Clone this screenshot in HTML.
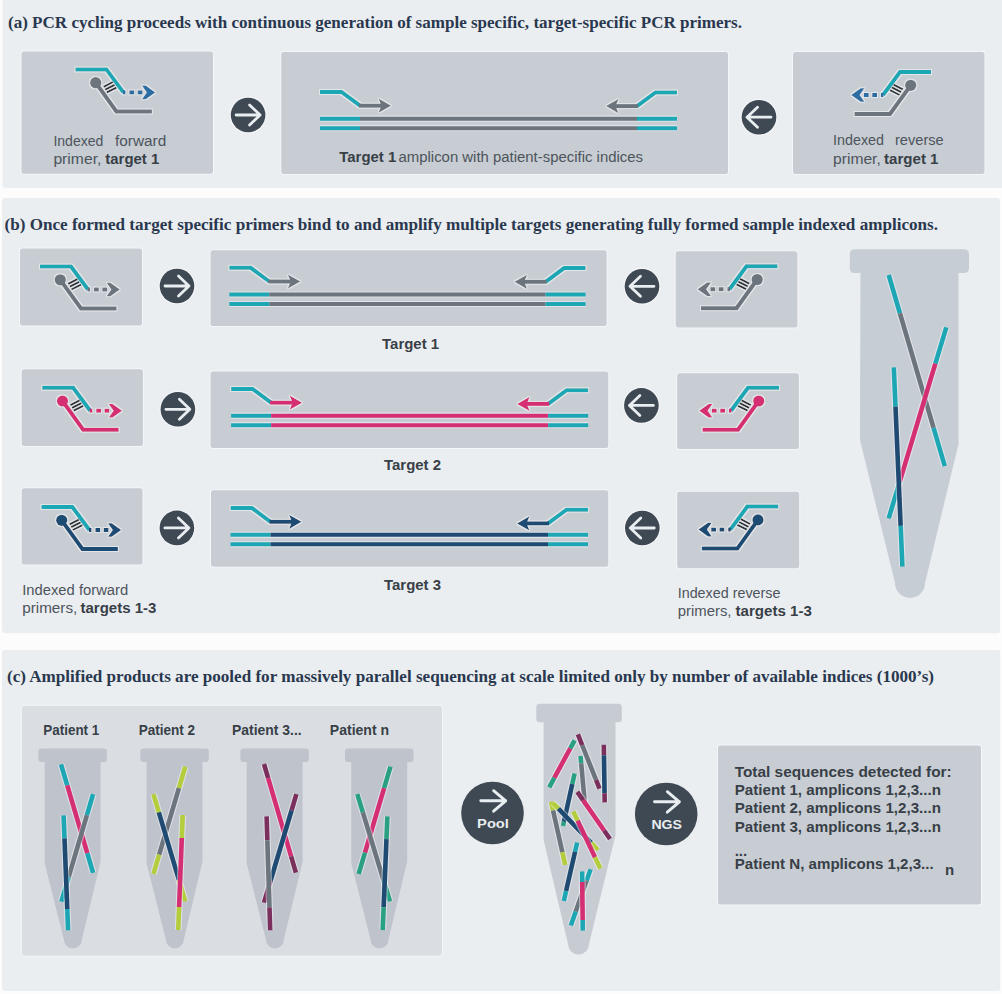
<!DOCTYPE html>
<html><head><meta charset="utf-8"><style>
html,body{margin:0;padding:0;background:#fcfcfd;}
body{width:1002px;height:994px;overflow:hidden;font-family:"Liberation Sans",sans-serif;}
svg{display:block;}
</style></head><body>
<svg width="1002" height="994" viewBox="0 0 1002 994">
<defs><filter id="halo" x="-20%" y="-20%" width="140%" height="140%"><feMorphology in="SourceAlpha" operator="dilate" radius="1.1" result="d"/><feFlood flood-color="#ffffff" flood-opacity="0.5"/><feComposite in2="d" operator="in" result="h"/><feMerge><feMergeNode in="h"/><feMergeNode in="SourceGraphic"/></feMerge></filter></defs>
<rect width="1002" height="994" fill="#fcfcfd"/>
<rect x="2.5" y="-4" width="1003" height="192" rx="3" fill="#ebeef1"/>
<rect x="2" y="198" width="998" height="435.2" rx="3" fill="#ebeef1"/>
<rect x="2" y="650" width="998.3" height="341" rx="3" fill="#ebeef1"/>
<text x="8" y="28" font-family="Liberation Serif" font-size="17" font-weight="bold" fill="#29384f" textLength="734" lengthAdjust="spacingAndGlyphs" xml:space="preserve">(a) PCR cycling proceeds with continuous generation of sample specific, target-specific PCR primers.</text>
<text x="4.5" y="230" font-family="Liberation Serif" font-size="17" font-weight="bold" fill="#29384f" textLength="933.5" lengthAdjust="spacingAndGlyphs" xml:space="preserve">(b) Once formed target specific primers bind to and amplify multiple targets generating fully formed sample indexed amplicons.</text>
<text x="7" y="681.5" font-family="Liberation Serif" font-size="17" font-weight="bold" fill="#29384f" textLength="927" lengthAdjust="spacingAndGlyphs" xml:space="preserve">(c) Amplified products are pooled for massively parallel sequencing at scale limited only by number of available indices (1000’s)</text>
<rect x="20.5" y="50.5" width="193.5" height="124.3" rx="3.5" fill="#f4f6f9"/>
<rect x="21.5" y="51.5" width="191.5" height="122.3" rx="2.5" fill="#c7cdd3"/>
<rect x="280.3" y="51" width="448.7" height="124" rx="3.5" fill="#f4f6f9"/>
<rect x="281.3" y="52" width="446.7" height="122" rx="2.5" fill="#c7cdd3"/>
<rect x="792" y="51" width="193.5" height="124" rx="3.5" fill="#f4f6f9"/>
<rect x="793" y="52" width="191.5" height="122" rx="2.5" fill="#c7cdd3"/>
<g transform="translate(75.4,69.4)" filter="url(#halo)"><path d="M0,0 H31 L48,23" fill="none" stroke="#1da7b4" stroke-width="4"/><rect x="47.5" y="21" width="2.6" height="4" fill="#2c6ea3"/><rect x="54" y="21" width="4.8" height="4" fill="#2c6ea3"/><rect x="62.3" y="21" width="4.8" height="4" fill="#2c6ea3"/><polygon points="66.6,16.2 70.3,16.2 79.8,23 70.3,29.8 66.6,29.8 71.4,23" fill="#2c6ea3"/><path d="M20.3,13.3 L41,42 H76.5" fill="none" stroke="#6c747d" stroke-width="4"/><circle cx="20.3" cy="13.3" r="5.6" fill="#6c747d"/><line x1="28.2" y1="17.4" x2="37.4" y2="12.6" stroke="#2d3338" stroke-width="1.9"/><line x1="29.8" y1="20.2" x2="39.2" y2="15.4" stroke="#2d3338" stroke-width="1.9"/><line x1="31.4" y1="23" x2="41" y2="18.2" stroke="#2d3338" stroke-width="1.9"/></g>
<g transform="translate(931,72) scale(-1,1)" filter="url(#halo)"><path d="M0,0 H31 L48,23" fill="none" stroke="#1da7b4" stroke-width="4"/><rect x="47.5" y="21" width="2.6" height="4" fill="#2c6ea3"/><rect x="54" y="21" width="4.8" height="4" fill="#2c6ea3"/><rect x="62.3" y="21" width="4.8" height="4" fill="#2c6ea3"/><polygon points="66.6,16.2 70.3,16.2 79.8,23 70.3,29.8 66.6,29.8 71.4,23" fill="#2c6ea3"/><path d="M20.3,13.3 L41,42 H76.5" fill="none" stroke="#6c747d" stroke-width="4"/><circle cx="20.3" cy="13.3" r="5.6" fill="#6c747d"/><line x1="28.2" y1="17.4" x2="37.4" y2="12.6" stroke="#2d3338" stroke-width="1.9"/><line x1="29.8" y1="20.2" x2="39.2" y2="15.4" stroke="#2d3338" stroke-width="1.9"/><line x1="31.4" y1="23" x2="41" y2="18.2" stroke="#2d3338" stroke-width="1.9"/></g>
<line x1="320" y1="118.7" x2="677" y2="118.7" stroke="#ffffff" stroke-opacity="0.45" stroke-width="6.2"/>
<line x1="320" y1="128.2" x2="677" y2="128.2" stroke="#ffffff" stroke-opacity="0.45" stroke-width="6.2"/>
<line x1="320" y1="118.7" x2="360" y2="118.7" stroke="#1da7b4" stroke-width="4"/>
<line x1="360" y1="118.7" x2="637" y2="118.7" stroke="#6c747d" stroke-width="4"/>
<line x1="637" y1="118.7" x2="677" y2="118.7" stroke="#1da7b4" stroke-width="4"/>
<line x1="320" y1="128.2" x2="360" y2="128.2" stroke="#1da7b4" stroke-width="4"/>
<line x1="360" y1="128.2" x2="637" y2="128.2" stroke="#6c747d" stroke-width="4"/>
<line x1="637" y1="128.2" x2="677" y2="128.2" stroke="#1da7b4" stroke-width="4"/>
<g transform="translate(320,92) scale(1,1)" filter="url(#halo)"><path d="M0,0 H21.5 L40,13.7" fill="none" stroke="#1da7b4" stroke-width="4"/><path d="M39,13.7 H63" fill="none" stroke="#6c747d" stroke-width="4"/><polygon points="58.5,6.6 71,13.7 58.5,20.8 61.5,13.7" fill="#6c747d"/></g>
<g transform="translate(677,92.4) scale(-1,1)" filter="url(#halo)"><path d="M0,0 H21.5 L40,13.7" fill="none" stroke="#1da7b4" stroke-width="4"/><path d="M39,13.7 H63" fill="none" stroke="#6c747d" stroke-width="4"/><polygon points="58.5,6.6 71,13.7 58.5,20.8 61.5,13.7" fill="#6c747d"/></g>
<g transform="translate(248.1,115) scale(1,1)"><circle r="18.5" fill="#f4f6f9"/><circle r="17.3" fill="#3e4954"/><path d="M-12,0 H12 M1.5,-10 L12,0 L1.5,10" fill="none" stroke="#e9eef1" stroke-width="2.8" stroke-linecap="round" stroke-linejoin="round"/></g>
<g transform="translate(759,117.2) scale(-1,1)"><circle r="18.5" fill="#f4f6f9"/><circle r="17.3" fill="#3e4954"/><path d="M-12,0 H12 M1.5,-10 L12,0 L1.5,10" fill="none" stroke="#e9eef1" stroke-width="2.8" stroke-linecap="round" stroke-linejoin="round"/></g>
<text x="53.4" y="145.5" font-family="Liberation Sans" font-size="14" font-weight="normal" fill="#4d545c" textLength="50" lengthAdjust="spacingAndGlyphs" xml:space="preserve">Indexed</text>
<text x="115" y="145.5" font-family="Liberation Sans" font-size="14" font-weight="normal" fill="#4d545c" textLength="51.3" lengthAdjust="spacingAndGlyphs" xml:space="preserve">forward</text>
<text x="53.4" y="164" font-family="Liberation Sans" font-size="14" font-weight="normal" fill="#4d545c" textLength="48" lengthAdjust="spacingAndGlyphs" xml:space="preserve">primer,</text>
<text x="105.3" y="164" font-family="Liberation Sans" font-size="14" font-weight="bold" fill="#383f47" textLength="54" lengthAdjust="spacingAndGlyphs" xml:space="preserve">target 1</text>
<text x="339.3" y="162" font-family="Liberation Sans" font-size="14" font-weight="bold" fill="#383f47" textLength="56.9" lengthAdjust="spacingAndGlyphs" xml:space="preserve">Target 1</text>
<text x="398.5" y="162" font-family="Liberation Sans" font-size="14" font-weight="normal" fill="#4d545c" textLength="244.5" lengthAdjust="spacingAndGlyphs" xml:space="preserve">amplicon with patient-specific indices</text>
<text x="833" y="145.1" font-family="Liberation Sans" font-size="14" font-weight="normal" fill="#4d545c" textLength="51" lengthAdjust="spacingAndGlyphs" xml:space="preserve">Indexed</text>
<text x="895" y="145.1" font-family="Liberation Sans" font-size="14" font-weight="normal" fill="#4d545c" textLength="48.7" lengthAdjust="spacingAndGlyphs" xml:space="preserve">reverse</text>
<text x="833" y="164" font-family="Liberation Sans" font-size="14" font-weight="normal" fill="#4d545c" textLength="47.8" lengthAdjust="spacingAndGlyphs" xml:space="preserve">primer,</text>
<text x="884" y="164" font-family="Liberation Sans" font-size="14" font-weight="bold" fill="#383f47" textLength="54.5" lengthAdjust="spacingAndGlyphs" xml:space="preserve">target 1</text>
<rect x="19" y="247.5" width="124" height="79.0" rx="3.5" fill="#f4f6f9"/>
<rect x="20" y="248.5" width="122" height="77.0" rx="2.5" fill="#c7cdd3"/>
<rect x="209.5" y="249.2" width="398.1" height="77.8" rx="3.5" fill="#f4f6f9"/>
<rect x="210.5" y="250.2" width="396.1" height="75.8" rx="2.5" fill="#c7cdd3"/>
<rect x="674.7" y="250.2" width="123.7" height="78.4" rx="3.5" fill="#f4f6f9"/>
<rect x="675.7" y="251.2" width="121.7" height="76.4" rx="2.5" fill="#c7cdd3"/>
<g transform="translate(40,266.5)" filter="url(#halo)"><path d="M0,0 H31 L48,23" fill="none" stroke="#1da7b4" stroke-width="4"/><rect x="47.5" y="21" width="2.6" height="4" fill="#6c747d"/><rect x="54" y="21" width="4.8" height="4" fill="#6c747d"/><rect x="62.3" y="21" width="4.8" height="4" fill="#6c747d"/><polygon points="66.6,16.2 70.3,16.2 79.8,23 70.3,29.8 66.6,29.8 71.4,23" fill="#6c747d"/><path d="M20.3,13.3 L41,42 H76.5" fill="none" stroke="#6c747d" stroke-width="4"/><circle cx="20.3" cy="13.3" r="5.6" fill="#6c747d"/><line x1="28.2" y1="17.4" x2="37.4" y2="12.6" stroke="#2d3338" stroke-width="1.9"/><line x1="29.8" y1="20.2" x2="39.2" y2="15.4" stroke="#2d3338" stroke-width="1.9"/><line x1="31.4" y1="23" x2="41" y2="18.2" stroke="#2d3338" stroke-width="1.9"/></g>
<g transform="translate(777.5,266.2) scale(-1,1)" filter="url(#halo)"><path d="M0,0 H31 L48,23" fill="none" stroke="#1da7b4" stroke-width="4"/><rect x="47.5" y="21" width="2.6" height="4" fill="#6c747d"/><rect x="54" y="21" width="4.8" height="4" fill="#6c747d"/><rect x="62.3" y="21" width="4.8" height="4" fill="#6c747d"/><polygon points="66.6,16.2 70.3,16.2 79.8,23 70.3,29.8 66.6,29.8 71.4,23" fill="#6c747d"/><path d="M20.3,13.3 L41,42 H76.5" fill="none" stroke="#6c747d" stroke-width="4"/><circle cx="20.3" cy="13.3" r="5.6" fill="#6c747d"/><line x1="28.2" y1="17.4" x2="37.4" y2="12.6" stroke="#2d3338" stroke-width="1.9"/><line x1="29.8" y1="20.2" x2="39.2" y2="15.4" stroke="#2d3338" stroke-width="1.9"/><line x1="31.4" y1="23" x2="41" y2="18.2" stroke="#2d3338" stroke-width="1.9"/></g>
<line x1="229.3" y1="294.5" x2="585.6" y2="294.5" stroke="#ffffff" stroke-opacity="0.45" stroke-width="6.2"/>
<line x1="229.3" y1="304.0" x2="585.6" y2="304.0" stroke="#ffffff" stroke-opacity="0.45" stroke-width="6.2"/>
<line x1="229.3" y1="294.5" x2="269.3" y2="294.5" stroke="#1da7b4" stroke-width="4"/>
<line x1="269.3" y1="294.5" x2="545.6" y2="294.5" stroke="#6c747d" stroke-width="4"/>
<line x1="545.6" y1="294.5" x2="585.6" y2="294.5" stroke="#1da7b4" stroke-width="4"/>
<line x1="229.3" y1="304.0" x2="269.3" y2="304.0" stroke="#1da7b4" stroke-width="4"/>
<line x1="269.3" y1="304.0" x2="545.6" y2="304.0" stroke="#6c747d" stroke-width="4"/>
<line x1="545.6" y1="304.0" x2="585.6" y2="304.0" stroke="#1da7b4" stroke-width="4"/>
<g transform="translate(229.3,267.8) scale(1,1)" filter="url(#halo)"><path d="M0,0 H21.5 L40,13.7" fill="none" stroke="#1da7b4" stroke-width="4"/><path d="M39,13.7 H63" fill="none" stroke="#6c747d" stroke-width="4"/><polygon points="58.5,6.6 71,13.7 58.5,20.8 61.5,13.7" fill="#6c747d"/></g>
<g transform="translate(585.6,268.1) scale(-1,1)" filter="url(#halo)"><path d="M0,0 H21.5 L40,13.7" fill="none" stroke="#1da7b4" stroke-width="4"/><path d="M39,13.7 H63" fill="none" stroke="#6c747d" stroke-width="4"/><polygon points="58.5,6.6 71,13.7 58.5,20.8 61.5,13.7" fill="#6c747d"/></g>
<g transform="translate(177,286) scale(1,1)"><circle r="18.5" fill="#f4f6f9"/><circle r="17.3" fill="#3e4954"/><path d="M-12,0 H12 M1.5,-10 L12,0 L1.5,10" fill="none" stroke="#e9eef1" stroke-width="2.8" stroke-linecap="round" stroke-linejoin="round"/></g>
<g transform="translate(642,286.3) scale(-1,1)"><circle r="18.5" fill="#f4f6f9"/><circle r="17.3" fill="#3e4954"/><path d="M-12,0 H12 M1.5,-10 L12,0 L1.5,10" fill="none" stroke="#e9eef1" stroke-width="2.8" stroke-linecap="round" stroke-linejoin="round"/></g>
<text x="382.1" y="348.9" font-family="Liberation Sans" font-size="14" font-weight="bold" fill="#383f47" textLength="57" lengthAdjust="spacingAndGlyphs" xml:space="preserve">Target 1</text>
<rect x="20.7" y="368.3" width="123.2" height="78.8" rx="3.5" fill="#f4f6f9"/>
<rect x="21.7" y="369.3" width="121.2" height="76.8" rx="2.5" fill="#c7cdd3"/>
<rect x="209.5" y="370.4" width="399.8" height="78.6" rx="3.5" fill="#f4f6f9"/>
<rect x="210.5" y="371.4" width="397.8" height="76.6" rx="2.5" fill="#c7cdd3"/>
<rect x="676.2" y="372.2" width="123.7" height="77.9" rx="3.5" fill="#f4f6f9"/>
<rect x="677.2" y="373.2" width="121.7" height="75.9" rx="2.5" fill="#c7cdd3"/>
<g transform="translate(42.2,387.7)" filter="url(#halo)"><path d="M0,0 H31 L48,23" fill="none" stroke="#1da7b4" stroke-width="4"/><rect x="47.5" y="21" width="2.6" height="4" fill="#d52f73"/><rect x="54" y="21" width="4.8" height="4" fill="#d52f73"/><rect x="62.3" y="21" width="4.8" height="4" fill="#d52f73"/><polygon points="66.6,16.2 70.3,16.2 79.8,23 70.3,29.8 66.6,29.8 71.4,23" fill="#d52f73"/><path d="M20.3,13.3 L41,42 H76.5" fill="none" stroke="#d52f73" stroke-width="4"/><circle cx="20.3" cy="13.3" r="5.6" fill="#d52f73"/><line x1="28.2" y1="17.4" x2="37.4" y2="12.6" stroke="#2d3338" stroke-width="1.9"/><line x1="29.8" y1="20.2" x2="39.2" y2="15.4" stroke="#2d3338" stroke-width="1.9"/><line x1="31.4" y1="23" x2="41" y2="18.2" stroke="#2d3338" stroke-width="1.9"/></g>
<g transform="translate(779,387.7) scale(-1,1)" filter="url(#halo)"><path d="M0,0 H31 L48,23" fill="none" stroke="#1da7b4" stroke-width="4"/><rect x="47.5" y="21" width="2.6" height="4" fill="#d52f73"/><rect x="54" y="21" width="4.8" height="4" fill="#d52f73"/><rect x="62.3" y="21" width="4.8" height="4" fill="#d52f73"/><polygon points="66.6,16.2 70.3,16.2 79.8,23 70.3,29.8 66.6,29.8 71.4,23" fill="#d52f73"/><path d="M20.3,13.3 L41,42 H76.5" fill="none" stroke="#d52f73" stroke-width="4"/><circle cx="20.3" cy="13.3" r="5.6" fill="#d52f73"/><line x1="28.2" y1="17.4" x2="37.4" y2="12.6" stroke="#2d3338" stroke-width="1.9"/><line x1="29.8" y1="20.2" x2="39.2" y2="15.4" stroke="#2d3338" stroke-width="1.9"/><line x1="31.4" y1="23" x2="41" y2="18.2" stroke="#2d3338" stroke-width="1.9"/></g>
<line x1="231.1" y1="415.7" x2="588.2" y2="415.7" stroke="#ffffff" stroke-opacity="0.45" stroke-width="6.2"/>
<line x1="231.1" y1="425.2" x2="588.2" y2="425.2" stroke="#ffffff" stroke-opacity="0.45" stroke-width="6.2"/>
<line x1="231.1" y1="415.7" x2="271.1" y2="415.7" stroke="#1da7b4" stroke-width="4"/>
<line x1="271.1" y1="415.7" x2="548.2" y2="415.7" stroke="#d52f73" stroke-width="4"/>
<line x1="548.2" y1="415.7" x2="588.2" y2="415.7" stroke="#1da7b4" stroke-width="4"/>
<line x1="231.1" y1="425.2" x2="271.1" y2="425.2" stroke="#1da7b4" stroke-width="4"/>
<line x1="271.1" y1="425.2" x2="548.2" y2="425.2" stroke="#d52f73" stroke-width="4"/>
<line x1="548.2" y1="425.2" x2="588.2" y2="425.2" stroke="#1da7b4" stroke-width="4"/>
<g transform="translate(231.1,389) scale(1,1)" filter="url(#halo)"><path d="M0,0 H21.5 L40,13.7" fill="none" stroke="#1da7b4" stroke-width="4"/><path d="M39,13.7 H63" fill="none" stroke="#d52f73" stroke-width="4"/><polygon points="58.5,6.6 71,13.7 58.5,20.8 61.5,13.7" fill="#d52f73"/></g>
<g transform="translate(588.2,390.2) scale(-1,1)" filter="url(#halo)"><path d="M0,0 H21.5 L40,13.7" fill="none" stroke="#1da7b4" stroke-width="4"/><path d="M39,13.7 H63" fill="none" stroke="#d52f73" stroke-width="4"/><polygon points="58.5,6.6 71,13.7 58.5,20.8 61.5,13.7" fill="#d52f73"/></g>
<g transform="translate(177.9,409.3) scale(1,1)"><circle r="18.5" fill="#f4f6f9"/><circle r="17.3" fill="#3e4954"/><path d="M-12,0 H12 M1.5,-10 L12,0 L1.5,10" fill="none" stroke="#e9eef1" stroke-width="2.8" stroke-linecap="round" stroke-linejoin="round"/></g>
<g transform="translate(641.4,405.4) scale(-1,1)"><circle r="18.5" fill="#f4f6f9"/><circle r="17.3" fill="#3e4954"/><path d="M-12,0 H12 M1.5,-10 L12,0 L1.5,10" fill="none" stroke="#e9eef1" stroke-width="2.8" stroke-linecap="round" stroke-linejoin="round"/></g>
<text x="384" y="470.2" font-family="Liberation Sans" font-size="14" font-weight="bold" fill="#383f47" textLength="57" lengthAdjust="spacingAndGlyphs" xml:space="preserve">Target 2</text>
<rect x="20.7" y="487.2" width="122.8" height="78.4" rx="3.5" fill="#f4f6f9"/>
<rect x="21.7" y="488.2" width="120.8" height="76.4" rx="2.5" fill="#c7cdd3"/>
<rect x="210" y="489.2" width="399.3" height="78.5" rx="3.5" fill="#f4f6f9"/>
<rect x="211" y="490.2" width="397.3" height="76.5" rx="2.5" fill="#c7cdd3"/>
<rect x="676.2" y="490.7" width="124.0" height="78.6" rx="3.5" fill="#f4f6f9"/>
<rect x="677.2" y="491.7" width="122.0" height="76.6" rx="2.5" fill="#c7cdd3"/>
<g transform="translate(41.4,507)" filter="url(#halo)"><path d="M0,0 H31 L48,23" fill="none" stroke="#1da7b4" stroke-width="4"/><rect x="47.5" y="21" width="2.6" height="4" fill="#1f4b73"/><rect x="54" y="21" width="4.8" height="4" fill="#1f4b73"/><rect x="62.3" y="21" width="4.8" height="4" fill="#1f4b73"/><polygon points="66.6,16.2 70.3,16.2 79.8,23 70.3,29.8 66.6,29.8 71.4,23" fill="#1f4b73"/><path d="M20.3,13.3 L41,42 H76.5" fill="none" stroke="#1f4b73" stroke-width="4"/><circle cx="20.3" cy="13.3" r="5.6" fill="#1f4b73"/><line x1="28.2" y1="17.4" x2="37.4" y2="12.6" stroke="#2d3338" stroke-width="1.9"/><line x1="29.8" y1="20.2" x2="39.2" y2="15.4" stroke="#2d3338" stroke-width="1.9"/><line x1="31.4" y1="23" x2="41" y2="18.2" stroke="#2d3338" stroke-width="1.9"/></g>
<g transform="translate(778.3,506.6) scale(-1,1)" filter="url(#halo)"><path d="M0,0 H31 L48,23" fill="none" stroke="#1da7b4" stroke-width="4"/><rect x="47.5" y="21" width="2.6" height="4" fill="#1f4b73"/><rect x="54" y="21" width="4.8" height="4" fill="#1f4b73"/><rect x="62.3" y="21" width="4.8" height="4" fill="#1f4b73"/><polygon points="66.6,16.2 70.3,16.2 79.8,23 70.3,29.8 66.6,29.8 71.4,23" fill="#1f4b73"/><path d="M20.3,13.3 L41,42 H76.5" fill="none" stroke="#1f4b73" stroke-width="4"/><circle cx="20.3" cy="13.3" r="5.6" fill="#1f4b73"/><line x1="28.2" y1="17.4" x2="37.4" y2="12.6" stroke="#2d3338" stroke-width="1.9"/><line x1="29.8" y1="20.2" x2="39.2" y2="15.4" stroke="#2d3338" stroke-width="1.9"/><line x1="31.4" y1="23" x2="41" y2="18.2" stroke="#2d3338" stroke-width="1.9"/></g>
<line x1="230.5" y1="534.8000000000001" x2="588.0" y2="534.8000000000001" stroke="#ffffff" stroke-opacity="0.45" stroke-width="6.2"/>
<line x1="230.5" y1="544.3000000000001" x2="588.0" y2="544.3000000000001" stroke="#ffffff" stroke-opacity="0.45" stroke-width="6.2"/>
<line x1="230.5" y1="534.8000000000001" x2="270.5" y2="534.8000000000001" stroke="#1da7b4" stroke-width="4"/>
<line x1="270.5" y1="534.8000000000001" x2="548.0" y2="534.8000000000001" stroke="#1f4b73" stroke-width="4"/>
<line x1="548.0" y1="534.8000000000001" x2="588.0" y2="534.8000000000001" stroke="#1da7b4" stroke-width="4"/>
<line x1="230.5" y1="544.3000000000001" x2="270.5" y2="544.3000000000001" stroke="#1da7b4" stroke-width="4"/>
<line x1="270.5" y1="544.3000000000001" x2="548.0" y2="544.3000000000001" stroke="#1f4b73" stroke-width="4"/>
<line x1="548.0" y1="544.3000000000001" x2="588.0" y2="544.3000000000001" stroke="#1da7b4" stroke-width="4"/>
<g transform="translate(230.5,508.1) scale(1,1)" filter="url(#halo)"><path d="M0,0 H21.5 L40,13.7" fill="none" stroke="#1da7b4" stroke-width="4"/><path d="M39,13.7 H63" fill="none" stroke="#1f4b73" stroke-width="4"/><polygon points="58.5,6.6 71,13.7 58.5,20.8 61.5,13.7" fill="#1f4b73"/></g>
<g transform="translate(588.0,509.7) scale(-1,1)" filter="url(#halo)"><path d="M0,0 H21.5 L40,13.7" fill="none" stroke="#1da7b4" stroke-width="4"/><path d="M39,13.7 H63" fill="none" stroke="#1f4b73" stroke-width="4"/><polygon points="58.5,6.6 71,13.7 58.5,20.8 61.5,13.7" fill="#1f4b73"/></g>
<g transform="translate(176.9,527.9) scale(1,1)"><circle r="18.5" fill="#f4f6f9"/><circle r="17.3" fill="#3e4954"/><path d="M-12,0 H12 M1.5,-10 L12,0 L1.5,10" fill="none" stroke="#e9eef1" stroke-width="2.8" stroke-linecap="round" stroke-linejoin="round"/></g>
<g transform="translate(642.3,528) scale(-1,1)"><circle r="18.5" fill="#f4f6f9"/><circle r="17.3" fill="#3e4954"/><path d="M-12,0 H12 M1.5,-10 L12,0 L1.5,10" fill="none" stroke="#e9eef1" stroke-width="2.8" stroke-linecap="round" stroke-linejoin="round"/></g>
<text x="384" y="589.8" font-family="Liberation Sans" font-size="14" font-weight="bold" fill="#383f47" textLength="57" lengthAdjust="spacingAndGlyphs" xml:space="preserve">Target 3</text>
<text x="22.2" y="594.5" font-family="Liberation Sans" font-size="14" font-weight="normal" fill="#4d545c" textLength="106" lengthAdjust="spacingAndGlyphs" xml:space="preserve">Indexed forward</text>
<text x="22.2" y="613.3" font-family="Liberation Sans" font-size="14" font-weight="normal" fill="#4d545c" textLength="55.1" lengthAdjust="spacingAndGlyphs" xml:space="preserve">primers,</text>
<text x="80.5" y="613.3" font-family="Liberation Sans" font-size="14" font-weight="bold" fill="#383f47" textLength="75.8" lengthAdjust="spacingAndGlyphs" xml:space="preserve">targets 1-3</text>
<text x="677.7" y="597.5" font-family="Liberation Sans" font-size="14" font-weight="normal" fill="#4d545c" textLength="102.8" lengthAdjust="spacingAndGlyphs" xml:space="preserve">Indexed reverse</text>
<text x="677.7" y="616.3" font-family="Liberation Sans" font-size="14" font-weight="normal" fill="#4d545c" textLength="53.8" lengthAdjust="spacingAndGlyphs" xml:space="preserve">primers,</text>
<text x="735.5" y="616.3" font-family="Liberation Sans" font-size="14" font-weight="bold" fill="#383f47" textLength="76.3" lengthAdjust="spacingAndGlyphs" xml:space="preserve">targets 1-3</text>
<rect x="849.8" y="249.3" width="119.2" height="23.8" rx="4.5" fill="#c7cdd4"/>
<path d="M860.5,272.5 H958.5 V444 L925,583 A15,15 0 0 1 895,583 L860,440 Z" fill="#c7cdd4"/>
<line x1="888.7" y1="275" x2="944.8" y2="466.2" stroke="#ffffff" stroke-opacity="0.45" stroke-width="6.8"/>
<line x1="888.7" y1="275" x2="899.9200000000001" y2="313.24" stroke="#1da7b4" stroke-width="4.6"/>
<line x1="899.9200000000001" y1="313.24" x2="933.5799999999999" y2="427.96000000000004" stroke="#6c747d" stroke-width="4.6"/>
<line x1="933.5799999999999" y1="427.96000000000004" x2="944.8" y2="466.2" stroke="#1da7b4" stroke-width="4.6"/>
<line x1="946.3" y1="327.3" x2="888.7" y2="518.3" stroke="#ffffff" stroke-opacity="0.45" stroke-width="6.8"/>
<line x1="946.3" y1="327.3" x2="935.356" y2="363.59000000000003" stroke="#1da7b4" stroke-width="4.6"/>
<line x1="935.356" y1="363.59000000000003" x2="899.8168000000001" y2="481.437" stroke="#d52f73" stroke-width="4.6"/>
<line x1="899.8168000000001" y1="481.437" x2="888.7" y2="518.3" stroke="#1da7b4" stroke-width="4.6"/>
<line x1="893.8" y1="367.3" x2="902.4" y2="566.6" stroke="#ffffff" stroke-opacity="0.45" stroke-width="6.8"/>
<line x1="893.8" y1="367.3" x2="895.4942" y2="406.5621" stroke="#1da7b4" stroke-width="4.6"/>
<line x1="895.4942" y1="406.5621" x2="900.6456" y2="525.9428" stroke="#1f4b73" stroke-width="4.6"/>
<line x1="900.6456" y1="525.9428" x2="902.4" y2="566.6" stroke="#1da7b4" stroke-width="4.6"/>
<rect x="20.8" y="704.8" width="422.2" height="252" rx="4" fill="#f4f6f9"/>
<rect x="21.8" y="705.8" width="420.2" height="250" rx="3" fill="#dadee3"/>
<rect x="38.4" y="748.4" width="68.5" height="13.7" rx="3" fill="#bfc4cc"/>
<path d="M44.699999999999996,761.9 H100.6 V861.4 L81.9,939.4 A9,9 0 0 1 63.9,939.4 L44.699999999999996,863.4 Z" fill="#bfc4cc"/>
<rect x="140.3" y="748.4" width="68.5" height="13.7" rx="3" fill="#bfc4cc"/>
<path d="M146.60000000000002,761.9 H202.5 V861.4 L183.8,939.4 A9,9 0 0 1 165.8,939.4 L146.60000000000002,863.4 Z" fill="#bfc4cc"/>
<rect x="240.4" y="748.4" width="68.5" height="13.7" rx="3" fill="#bfc4cc"/>
<path d="M246.70000000000002,761.9 H302.6 V861.4 L283.9,939.4 A9,9 0 0 1 265.9,939.4 L246.70000000000002,863.4 Z" fill="#bfc4cc"/>
<rect x="345" y="748.4" width="68.5" height="13.7" rx="3" fill="#bfc4cc"/>
<path d="M351.3,761.9 H407.2 V861.4 L388.5,939.4 A9,9 0 0 1 370.5,939.4 L351.3,863.4 Z" fill="#bfc4cc"/>
<text x="43.3" y="735" font-family="Liberation Sans" font-size="14" font-weight="bold" fill="#383f47" textLength="56" lengthAdjust="spacingAndGlyphs" xml:space="preserve">Patient 1</text>
<text x="138.7" y="735" font-family="Liberation Sans" font-size="14" font-weight="bold" fill="#383f47" textLength="56.4" lengthAdjust="spacingAndGlyphs" xml:space="preserve">Patient 2</text>
<text x="232" y="735" font-family="Liberation Sans" font-size="14" font-weight="bold" fill="#383f47" textLength="69.7" lengthAdjust="spacingAndGlyphs" xml:space="preserve">Patient 3...</text>
<text x="329.8" y="735" font-family="Liberation Sans" font-size="14" font-weight="bold" fill="#383f47" textLength="59.3" lengthAdjust="spacingAndGlyphs" xml:space="preserve">Patient n</text>
<line x1="61" y1="764.3" x2="93.1" y2="872.8" stroke="#ffffff" stroke-opacity="0.45" stroke-width="6.8"/>
<line x1="61" y1="764.3" x2="67.2595" y2="785.4575" stroke="#1da7b4" stroke-width="4.6"/>
<line x1="67.2595" y1="785.4575" x2="87.32199999999999" y2="853.27" stroke="#d52f73" stroke-width="4.6"/>
<line x1="87.32199999999999" y1="853.27" x2="93.1" y2="872.8" stroke="#1da7b4" stroke-width="4.6"/>
<line x1="93.1" y1="794.2" x2="61.4" y2="901.6" stroke="#ffffff" stroke-opacity="0.45" stroke-width="6.8"/>
<line x1="93.1" y1="794.2" x2="86.9185" y2="815.143" stroke="#1da7b4" stroke-width="4.6"/>
<line x1="86.9185" y1="815.143" x2="68.691" y2="876.898" stroke="#6c747d" stroke-width="4.6"/>
<line x1="68.691" y1="876.898" x2="61.4" y2="901.6" stroke="#1da7b4" stroke-width="4.6"/>
<line x1="63.6" y1="815.3" x2="68.1" y2="930.3" stroke="#ffffff" stroke-opacity="0.45" stroke-width="6.8"/>
<line x1="63.6" y1="815.3" x2="64.5" y2="838.3" stroke="#1da7b4" stroke-width="4.6"/>
<line x1="64.5" y1="838.3" x2="67.2675" y2="909.025" stroke="#1f4b73" stroke-width="4.6"/>
<line x1="67.2675" y1="909.025" x2="68.1" y2="930.3" stroke="#1da7b4" stroke-width="4.6"/>
<line x1="185.3" y1="766.7" x2="153.4" y2="873.9" stroke="#ffffff" stroke-opacity="0.45" stroke-width="6.8"/>
<line x1="185.3" y1="766.7" x2="178.92000000000002" y2="788.14" stroke="#b4cd3c" stroke-width="4.6"/>
<line x1="178.92000000000002" y1="788.14" x2="159.142" y2="854.604" stroke="#6c747d" stroke-width="4.6"/>
<line x1="159.142" y1="854.604" x2="153.4" y2="873.9" stroke="#b4cd3c" stroke-width="4.6"/>
<line x1="153.4" y1="794.1" x2="185.3" y2="901.4" stroke="#ffffff" stroke-opacity="0.45" stroke-width="6.8"/>
<line x1="153.4" y1="794.1" x2="158.823" y2="812.341" stroke="#b4cd3c" stroke-width="4.6"/>
<line x1="158.823" y1="812.341" x2="178.92000000000002" y2="879.94" stroke="#1f4b73" stroke-width="4.6"/>
<line x1="178.92000000000002" y1="879.94" x2="185.3" y2="901.4" stroke="#b4cd3c" stroke-width="4.6"/>
<line x1="182.7" y1="815" x2="178.2" y2="930" stroke="#ffffff" stroke-opacity="0.45" stroke-width="6.8"/>
<line x1="182.7" y1="815" x2="181.79999999999998" y2="838.0" stroke="#b4cd3c" stroke-width="4.6"/>
<line x1="181.79999999999998" y1="838.0" x2="179.1" y2="907.0" stroke="#d52f73" stroke-width="4.6"/>
<line x1="179.1" y1="907.0" x2="178.2" y2="930" stroke="#b4cd3c" stroke-width="4.6"/>
<line x1="264" y1="764" x2="295.9" y2="872.6" stroke="#ffffff" stroke-opacity="0.45" stroke-width="6.8"/>
<line x1="264" y1="764" x2="268.147" y2="778.118" stroke="#7b2f5d" stroke-width="4.6"/>
<line x1="268.147" y1="778.118" x2="291.115" y2="856.3100000000001" stroke="#d52f73" stroke-width="4.6"/>
<line x1="291.115" y1="856.3100000000001" x2="295.9" y2="872.6" stroke="#7b2f5d" stroke-width="4.6"/>
<line x1="296.4" y1="794.2" x2="264" y2="902.7" stroke="#ffffff" stroke-opacity="0.45" stroke-width="6.8"/>
<line x1="296.4" y1="794.2" x2="291.53999999999996" y2="810.475" stroke="#7b2f5d" stroke-width="4.6"/>
<line x1="291.53999999999996" y1="810.475" x2="270.48" y2="881.0" stroke="#1f4b73" stroke-width="4.6"/>
<line x1="270.48" y1="881.0" x2="264" y2="902.7" stroke="#7b2f5d" stroke-width="4.6"/>
<line x1="266.6" y1="816.4" x2="270.2" y2="930.2" stroke="#ffffff" stroke-opacity="0.45" stroke-width="6.8"/>
<line x1="266.6" y1="816.4" x2="267.356" y2="840.298" stroke="#7b2f5d" stroke-width="4.6"/>
<line x1="267.356" y1="840.298" x2="269.48" y2="907.44" stroke="#6c747d" stroke-width="4.6"/>
<line x1="269.48" y1="907.44" x2="270.2" y2="930.2" stroke="#7b2f5d" stroke-width="4.6"/>
<line x1="390.5" y1="766.7" x2="358.6" y2="874" stroke="#ffffff" stroke-opacity="0.45" stroke-width="6.8"/>
<line x1="390.5" y1="766.7" x2="384.12" y2="788.1600000000001" stroke="#2aa083" stroke-width="4.6"/>
<line x1="384.12" y1="788.1600000000001" x2="364.98" y2="852.54" stroke="#d52f73" stroke-width="4.6"/>
<line x1="364.98" y1="852.54" x2="358.6" y2="874" stroke="#2aa083" stroke-width="4.6"/>
<line x1="357.3" y1="794.2" x2="390" y2="901.4" stroke="#ffffff" stroke-opacity="0.45" stroke-width="6.8"/>
<line x1="357.3" y1="794.2" x2="362.85900000000004" y2="812.424" stroke="#2aa083" stroke-width="4.6"/>
<line x1="362.85900000000004" y1="812.424" x2="383.46" y2="879.96" stroke="#6c747d" stroke-width="4.6"/>
<line x1="383.46" y1="879.96" x2="390" y2="901.4" stroke="#2aa083" stroke-width="4.6"/>
<line x1="387.4" y1="816.4" x2="382.7" y2="930.2" stroke="#ffffff" stroke-opacity="0.45" stroke-width="6.8"/>
<line x1="387.4" y1="816.4" x2="386.46" y2="839.16" stroke="#2aa083" stroke-width="4.6"/>
<line x1="386.46" y1="839.16" x2="383.64" y2="907.44" stroke="#1f4b73" stroke-width="4.6"/>
<line x1="383.64" y1="907.44" x2="382.7" y2="930.2" stroke="#2aa083" stroke-width="4.6"/>
<circle cx="492.5" cy="813" r="31.3" fill="#3e4954"/>
<path d="M480.8,800.8 H505.7 M493.6,790.7 L505.7,800.8 L493.6,811.2" fill="none" stroke="#e9eef1" stroke-width="2.9" stroke-linecap="round" stroke-linejoin="round"/>
<text x="477.1" y="828.3" font-family="Liberation Sans" font-size="13" font-weight="bold" fill="#e9eef1" textLength="31.8" lengthAdjust="spacingAndGlyphs" xml:space="preserve">Pool</text>
<circle cx="666.2" cy="814" r="31.3" fill="#3e4954"/>
<path d="M654.5,801.8 H679.4000000000001 M667.3000000000001,791.7 L679.4000000000001,801.8 L667.3000000000001,812.2" fill="none" stroke="#e9eef1" stroke-width="2.9" stroke-linecap="round" stroke-linejoin="round"/>
<text x="651.4000000000001" y="829.3" font-family="Liberation Sans" font-size="13" font-weight="bold" fill="#e9eef1" textLength="30.6" lengthAdjust="spacingAndGlyphs" xml:space="preserve">NGS</text>
<rect x="536.3" y="703.8" width="85.5" height="18.5" rx="3.5" fill="#c7ccd3"/>
<path d="M543.6,722 H615.5 V835 L589,944 A10.5,10.5 0 0 1 568,944 L543.6,840 Z" fill="#c7ccd3"/>
<line x1="574.6" y1="740.3" x2="549.2" y2="787.3" stroke="#ffffff" stroke-opacity="0.45" stroke-width="6.8"/>
<line x1="574.6" y1="740.3" x2="570.282" y2="748.29" stroke="#2aa083" stroke-width="4.6"/>
<line x1="570.282" y1="748.29" x2="554.2800000000001" y2="777.9" stroke="#d52f73" stroke-width="4.6"/>
<line x1="554.2800000000001" y1="777.9" x2="549.2" y2="787.3" stroke="#2aa083" stroke-width="4.6"/>
<line x1="577.9" y1="734.4" x2="599.5" y2="788.6" stroke="#ffffff" stroke-opacity="0.45" stroke-width="6.8"/>
<line x1="577.9" y1="734.4" x2="582.22" y2="745.24" stroke="#7b2f5d" stroke-width="4.6"/>
<line x1="582.22" y1="745.24" x2="596.044" y2="779.928" stroke="#6c747d" stroke-width="4.6"/>
<line x1="596.044" y1="779.928" x2="599.5" y2="788.6" stroke="#7b2f5d" stroke-width="4.6"/>
<line x1="603.8" y1="744.8" x2="604.7" y2="802.4" stroke="#ffffff" stroke-opacity="0.45" stroke-width="6.8"/>
<line x1="603.8" y1="744.8" x2="603.962" y2="755.168" stroke="#7b2f5d" stroke-width="4.6"/>
<line x1="603.962" y1="755.168" x2="604.556" y2="793.184" stroke="#1f4b73" stroke-width="4.6"/>
<line x1="604.556" y1="793.184" x2="604.7" y2="802.4" stroke="#7b2f5d" stroke-width="4.6"/>
<line x1="580.5" y1="756" x2="585" y2="805" stroke="#ffffff" stroke-opacity="0.45" stroke-width="6.8"/>
<line x1="580.5" y1="756" x2="581.175" y2="763.35" stroke="#2aa083" stroke-width="4.6"/>
<line x1="581.175" y1="763.35" x2="584.775" y2="802.55" stroke="#6c747d" stroke-width="4.6"/>
<line x1="584.775" y1="802.55" x2="585" y2="805" stroke="#2aa083" stroke-width="4.6"/>
<line x1="574.6" y1="773.6" x2="563" y2="826" stroke="#ffffff" stroke-opacity="0.45" stroke-width="6.8"/>
<line x1="574.6" y1="773.6" x2="572.28" y2="784.08" stroke="#2aa083" stroke-width="4.6"/>
<line x1="572.28" y1="784.08" x2="563.928" y2="821.808" stroke="#1f4b73" stroke-width="4.6"/>
<line x1="563.928" y1="821.808" x2="563" y2="826" stroke="#2aa083" stroke-width="4.6"/>
<line x1="577.3" y1="791.9" x2="610" y2="839" stroke="#ffffff" stroke-opacity="0.45" stroke-width="6.8"/>
<line x1="577.3" y1="791.9" x2="583.1859999999999" y2="800.3779999999999" stroke="#7b2f5d" stroke-width="4.6"/>
<line x1="583.1859999999999" y1="800.3779999999999" x2="604.114" y2="830.5219999999999" stroke="#d52f73" stroke-width="4.6"/>
<line x1="604.114" y1="830.5219999999999" x2="610" y2="839" stroke="#7b2f5d" stroke-width="4.6"/>
<line x1="551.1" y1="801.7" x2="565.2" y2="865" stroke="#ffffff" stroke-opacity="0.45" stroke-width="6.8"/>
<line x1="551.1" y1="801.7" x2="553.0740000000001" y2="810.562" stroke="#b4cd3c" stroke-width="4.6"/>
<line x1="553.0740000000001" y1="810.562" x2="562.38" y2="852.34" stroke="#6c747d" stroke-width="4.6"/>
<line x1="562.38" y1="852.34" x2="565.2" y2="865" stroke="#b4cd3c" stroke-width="4.6"/>
<line x1="553" y1="803" x2="598" y2="850" stroke="#ffffff" stroke-opacity="0.45" stroke-width="6.8"/>
<line x1="553" y1="803" x2="558.4" y2="808.64" stroke="#b4cd3c" stroke-width="4.6"/>
<line x1="558.4" y1="808.64" x2="591.25" y2="842.95" stroke="#1f4b73" stroke-width="4.6"/>
<line x1="591.25" y1="842.95" x2="598" y2="850" stroke="#b4cd3c" stroke-width="4.6"/>
<line x1="573.3" y1="811.5" x2="600.4" y2="868.6" stroke="#ffffff" stroke-opacity="0.45" stroke-width="6.8"/>
<line x1="573.3" y1="811.5" x2="577.636" y2="820.636" stroke="#b4cd3c" stroke-width="4.6"/>
<line x1="577.636" y1="820.636" x2="594.98" y2="857.1800000000001" stroke="#d52f73" stroke-width="4.6"/>
<line x1="594.98" y1="857.1800000000001" x2="600.4" y2="868.6" stroke="#b4cd3c" stroke-width="4.6"/>
<line x1="577.2" y1="842.5" x2="563.8" y2="901" stroke="#ffffff" stroke-opacity="0.45" stroke-width="6.8"/>
<line x1="577.2" y1="842.5" x2="575.056" y2="851.86" stroke="#1da7b4" stroke-width="4.6"/>
<line x1="575.056" y1="851.86" x2="566.078" y2="891.055" stroke="#1f4b73" stroke-width="4.6"/>
<line x1="566.078" y1="891.055" x2="563.8" y2="901" stroke="#1da7b4" stroke-width="4.6"/>
<line x1="590.6" y1="869.3" x2="570.8" y2="925.6" stroke="#ffffff" stroke-opacity="0.45" stroke-width="6.8"/>
<line x1="590.6" y1="869.3" x2="586.64" y2="880.56" stroke="#1da7b4" stroke-width="4.6"/>
<line x1="586.64" y1="880.56" x2="575.75" y2="911.525" stroke="#6c747d" stroke-width="4.6"/>
<line x1="575.75" y1="911.525" x2="570.8" y2="925.6" stroke="#1da7b4" stroke-width="4.6"/>
<line x1="582.1" y1="871.4" x2="582.8" y2="930.6" stroke="#ffffff" stroke-opacity="0.45" stroke-width="6.8"/>
<line x1="582.1" y1="871.4" x2="582.226" y2="882.056" stroke="#1da7b4" stroke-width="4.6"/>
<line x1="582.226" y1="882.056" x2="582.674" y2="919.944" stroke="#d52f73" stroke-width="4.6"/>
<line x1="582.674" y1="919.944" x2="582.8" y2="930.6" stroke="#1da7b4" stroke-width="4.6"/>
<rect x="717" y="744.6" width="265" height="160.8" rx="3.5" fill="#f4f6f9"/>
<rect x="718" y="745.6" width="263" height="158.8" rx="2.5" fill="#c7cdd3"/>
<text x="734.7" y="776.7" font-family="Liberation Sans" font-size="15" font-weight="bold" fill="#383f47" textLength="217" lengthAdjust="spacingAndGlyphs" xml:space="preserve">Total sequences detected for:</text>
<text x="734.7" y="795.3" font-family="Liberation Sans" font-size="15" font-weight="bold" fill="#383f47" textLength="206.3" lengthAdjust="spacingAndGlyphs" xml:space="preserve">Patient 1, amplicons 1,2,3...n</text>
<text x="734.7" y="813.4" font-family="Liberation Sans" font-size="15" font-weight="bold" fill="#383f47" textLength="206.3" lengthAdjust="spacingAndGlyphs" xml:space="preserve">Patient 2, amplicons 1,2,3...n</text>
<text x="734.7" y="831.5" font-family="Liberation Sans" font-size="15" font-weight="bold" fill="#383f47" textLength="206.3" lengthAdjust="spacingAndGlyphs" xml:space="preserve">Patient 3, amplicons 1,2,3...n</text>
<text x="734.7" y="855.5" font-family="Liberation Sans" font-size="15" font-weight="bold" fill="#383f47" xml:space="preserve">...</text>
<text x="734.7" y="869.2" font-family="Liberation Sans" font-size="15" font-weight="bold" fill="#383f47" textLength="199" lengthAdjust="spacingAndGlyphs" xml:space="preserve">Patient N, amplicons 1,2,3...</text>
<text x="945" y="875" font-family="Liberation Sans" font-size="15" font-weight="bold" fill="#383f47" xml:space="preserve">n</text>
</svg>
</body></html>
